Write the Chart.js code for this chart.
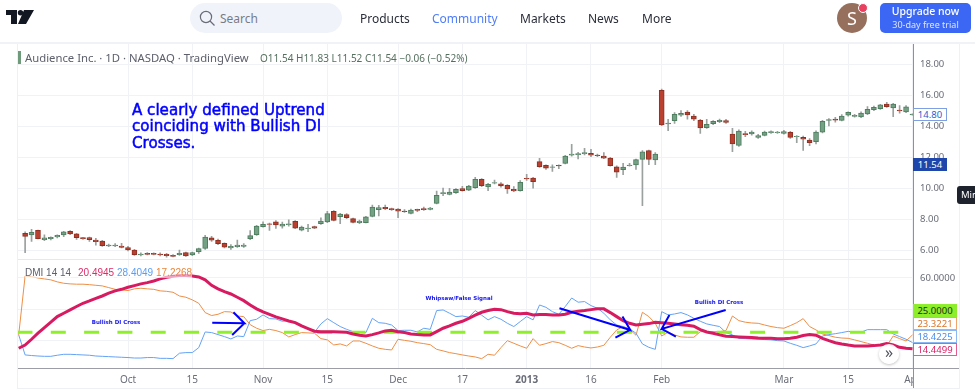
<!DOCTYPE html>
<html>
<head>
<meta charset="utf-8">
<title>Audience Inc. DMI</title>
<script src="https://cdn.jsdelivr.net/npm/chart.js@4/dist/chart.umd.min.js"></script>
<style>
  html, body { margin: 0; padding: 0; background: #fff; overflow: hidden; }
  #page { position: relative; width: 975px; height: 391px; font-family: "Noto Sans", sans-serif; filter: blur(0.4px); }
  #page div { position: absolute; white-space: nowrap; }
  canvas { position: absolute; left: 0; }
  .nav { top: 10px; font-size: 12px; color: #2a2e39; }
  .box { left: 913px; height: 11px; line-height: 11px; padding: 0; font-size: 9.5px; text-align: center; box-sizing: content-box; background: #fff; }
  .note { color: #1414f0; font-family: "DejaVu Sans", sans-serif; font-weight: bold; font-size: 5.5px; transform: translateX(-50%); }
  .leg { top: 267px; font-family: "Liberation Sans", sans-serif; font-size: 10px; background: rgba(255,255,255,.6); }
</style>
</head>
<body>
<div id="page">
  <!-- header -->
  <svg style="position:absolute;left:6px;top:10px" width="28" height="15" viewBox="0 0 28 15">
    <path d="M0 0H11V14H5V5H0Z M18 0H28L20 14H12Z" fill="#131722"/><circle cx="14.5" cy="2.7" r="2.7" fill="#131722"/>
  </svg>
  <div style="left:190px;top:3px;width:152px;height:30px;border-radius:15px;background:#f0f3fa"></div>
  <svg style="position:absolute;left:199px;top:10px" width="17" height="17" viewBox="0 0 17 17">
    <circle cx="7" cy="7" r="5.6" fill="none" stroke="#6a6d78" stroke-width="1.2"/><path d="M11 11L15.5 15.5" stroke="#6a6d78" stroke-width="1.2"/>
  </svg>
  <div style="left:220px;top:10px;font-size:12px;color:#787b86">Search</div>
  <div class="nav" style="left:360px">Products</div>
  <div class="nav" style="left:432px;color:#4f7dfa">Community</div>
  <div class="nav" style="left:520px">Markets</div>
  <div class="nav" style="left:588px">News</div>
  <div class="nav" style="left:642px">More</div>
  <div style="left:837px;top:3px;width:30px;height:30px;border-radius:15px;background:#96705c;color:#fff;font-size:18px;line-height:30px;text-align:center">S</div>
  <div style="left:858px;top:3px;width:8px;height:8px;border-radius:5px;background:#e8405e;border:1px solid #fff"></div>
  <div style="left:880px;top:3px;width:91px;height:30px;border-radius:5px;background:#3c67f5"></div>
  <div style="left:880px;top:4px;width:91px;text-align:center;font-size:10.5px;color:#fff;font-weight:500">Upgrade now</div>
  <div style="left:880px;top:18px;width:91px;text-align:center;font-size:9px;color:#dbe4ff">30-day free trial</div>
  <div style="left:0;top:42px;width:975px;height:2px;background:#f1f2f6"></div>

  <canvas id="priceChart" width="959" height="216" style="top:44px"></canvas>
  <canvas id="dmiChart" width="959" height="128" style="top:260px"></canvas>

  <!-- frame -->
  <div style="left:17px;top:44px;width:1px;height:344px;background:#eef0f4"></div>
  <div style="left:17px;top:388px;width:942px;height:1px;background:#eef0f4"></div>
  <div style="left:959px;top:44px;width:1px;height:345px;background:#f0f1f5"></div>
  <div style="left:913px;top:369px;width:46px;height:19px;background:#fff"></div>
  <div style="left:913px;top:368px;width:46px;height:1px;background:#9b9ea6"></div>
  <div style="left:913px;top:44px;width:1px;height:344px;background:#8e9199"></div>

  <!-- legends -->
  <div style="left:18px;top:51px;width:3px;height:13px;background:#6f9b7c"></div>
  <div style="left:25px;top:50px;font-size:11.3px;color:#5d606b">Audience Inc. · 1D · NASDAQ · TradingView</div>
  <div style="left:260px;top:51px;font-size:10px;color:#55705f">O11.54 H11.83 L11.52 C11.54 −0.06 (−0.52%)</div>
  <div class="leg" style="left:25px;color:#5d606b">DMI 14 14</div>
  <div class="leg" style="left:78px;color:#dd2a68">20.4945</div>
  <div class="leg" style="left:117px;color:#5c9df2">28.4049</div>
  <div class="leg" style="left:156px;color:#e8863b">17.2268</div>

  <!-- annotations -->
  <div style="left:132px;top:102px;font-family:'DejaVu Sans',sans-serif;font-size:15.1px;line-height:16.4px;color:#0000ff;-webkit-text-stroke:0.5px #0000ff">A clearly defined Uptrend<br>coinciding with Bullish DI<br>Crosses.</div>
  <div class="note" style="left:116px;top:319px">Bullish DI Cross</div>
  <div class="note" style="left:459px;top:295px">Whipsaw/False Signal</div>
  <div class="note" style="left:719px;top:299px">Bullish DI Cross</div>

  <!-- price scale labels -->
  <div class="box" style="top:108px;width:32px;border:1px solid #7f9fe4;color:#2f5bd0">14.80</div>
  <div class="box" style="top:158px;width:34px;height:13px;line-height:13px;background:#1f47ab;color:#fff">11.54</div>
  <div style="left:957px;top:186px;width:18px;height:18px;border-radius:3px 0 0 3px;background:#1e222d;color:#fff;font-size:9.5px;line-height:18px;padding-left:4px;box-sizing:border-box;overflow:hidden">Min</div>
  <div class="box" style="top:304px;width:44px;height:13px;line-height:13px;background:#8fee2c;color:#20300c">25.0000</div>
  <div class="box" style="top:317px;width:42px;border:1px solid #f2a56a;color:#d9762b">23.3221</div>
  <div class="box" style="top:330px;width:42px;border:1px solid #8ab8f5;color:#4c8fe8">18.4225</div>
  <div class="box" style="top:343px;width:42px;border:1px solid #e45c90;color:#d81b60">14.4499</div>
  <div style="left:879px;top:344px;width:20px;height:20px;border-radius:10px;background:rgba(255,255,255,.92);box-shadow:0 1px 3px rgba(0,0,0,.25);color:#50535e;font-size:16px;line-height:17px;text-align:center">»</div>
</div>

<script>
const opens = [
  7.08,6.97,7.27,6.67,6.73,6.84,6.97,7.21,7.04,6.80,
  6.80,6.65,6.58,6.26,6.26,6.26,6.15,6.00,5.68,5.78,
  5.78,5.74,5.72,5.65,5.70,5.83,5.68,5.89,6.11,6.78,
  6.63,6.43,6.13,6.22,6.24,6.73,6.99,7.51,7.70,7.83,
  7.55,7.64,7.86,7.29,7.38,7.51,7.70,7.81,8.50,8.16,
  8.29,8.03,7.77,7.77,8.18,8.61,8.76,8.68,8.65,8.52,
  8.37,8.63,8.68,8.63,9.02,9.65,9.60,9.71,9.97,9.88,
  10.03,10.57,10.08,10.32,10.29,10.19,9.93,9.84,10.64,10.66,
  11.72,11.48,11.35,11.48,11.61,12.13,12.17,12.24,12.26,12.15,
  12.08,11.95,11.39,11.20,11.46,11.50,11.87,12.43,11.83,16.33,
  14.16,14.37,14.72,14.93,14.67,14.39,13.92,14.18,14.31,14.37,
  13.51,12.77,13.53,13.51,13.29,13.42,13.59,13.59,13.55,13.62,
  13.34,13.29,13.12,13.01,13.62,14.39,14.48,14.39,14.72,14.65,
  14.61,14.80,15.08,15.15,15.45,15.19,15.06,14.93,14.74];
const highs = [
  7.17,7.34,7.29,6.99,6.86,6.99,7.21,7.25,7.08,6.82,
  6.84,6.76,6.63,6.39,6.41,6.43,6.24,6.04,5.81,5.83,
  5.81,5.81,5.78,5.70,6.00,5.87,5.87,6.13,6.95,6.88,
  6.71,6.47,6.35,6.65,6.41,7.25,7.60,7.83,7.75,7.90,
  7.81,7.96,7.90,7.55,7.66,7.55,8.09,8.50,8.55,8.37,
  8.35,8.07,7.94,8.18,8.91,8.89,8.91,8.72,8.68,8.61,
  8.65,8.65,8.78,8.76,9.82,10.01,9.99,9.97,10.12,10.19,
  10.70,10.62,10.32,10.53,10.36,10.23,10.10,10.49,10.90,10.70,
  11.93,11.52,11.52,11.52,12.13,12.84,12.32,12.58,12.52,12.21,
  12.30,12.00,11.44,11.61,11.61,11.89,12.43,12.47,12.30,16.42,
  14.46,14.89,15.02,15.02,14.78,14.46,14.46,14.37,14.48,14.46,
  13.87,13.77,13.68,13.72,13.49,13.70,13.72,13.68,13.75,13.68,
  13.40,13.38,13.21,13.72,14.39,14.50,14.59,14.76,14.95,14.78,
  14.95,15.28,15.32,15.43,15.56,15.49,15.34,15.34,14.82];
const lows = [
  5.83,6.56,6.71,6.60,6.65,6.78,6.86,6.99,6.69,6.69,
  6.56,6.32,6.24,6.22,6.22,6.13,5.94,5.65,5.61,5.68,
  5.68,5.61,5.53,5.55,5.65,5.59,5.63,5.78,6.04,6.56,
  6.35,6.13,6.04,6.17,6.17,6.67,6.95,7.47,7.27,7.40,
  7.42,7.55,7.38,7.23,7.19,7.38,7.66,7.77,7.88,7.70,
  8.03,7.75,7.70,7.75,8.14,8.20,8.61,8.57,8.09,8.44,
  8.33,8.48,8.57,8.59,8.98,9.52,9.56,9.67,9.80,9.84,
  9.99,10.10,9.84,10.27,10.06,9.67,9.78,9.80,10.51,10.01,
  11.35,11.22,11.09,11.26,11.57,12.08,11.89,12.15,12.04,12.04,
  11.91,11.42,10.70,10.88,11.42,11.22,8.87,11.52,11.52,14.05,
  13.72,14.20,14.65,14.46,14.37,13.55,13.87,14.11,14.24,14.20,
  12.36,12.71,13.34,13.44,13.23,13.38,13.55,13.55,13.49,13.23,
  12.95,12.45,12.75,12.86,13.57,14.03,14.28,14.35,14.67,14.59,
  14.57,14.76,15.02,15.10,15.23,14.63,14.85,14.89,14.72];
const closes = [
  6.88,7.14,6.73,6.78,6.82,6.95,7.17,7.04,6.80,6.73,
  6.67,6.54,6.28,6.32,6.32,6.17,6.00,5.70,5.74,5.72,
  5.72,5.68,5.63,5.59,5.78,5.61,5.83,6.09,6.84,6.63,
  6.41,6.19,6.24,6.32,6.32,6.93,7.55,7.66,7.66,7.62,
  7.68,7.70,7.42,7.49,7.42,7.42,7.88,8.35,7.92,8.33,
  8.09,7.79,7.88,8.14,8.78,8.74,8.68,8.61,8.52,8.48,
  8.59,8.57,8.61,8.72,9.54,9.71,9.75,9.93,9.84,10.14,
  10.57,10.16,10.25,10.36,10.14,9.95,9.82,10.38,10.60,10.42,
  11.39,11.29,11.39,11.44,12.08,12.21,12.24,12.30,12.13,12.11,
  11.95,11.46,11.03,11.37,11.50,11.85,12.36,11.87,12.21,14.09,
  14.22,14.78,14.85,14.74,14.46,13.90,14.13,14.33,14.39,14.26,
  12.86,13.70,13.47,13.64,13.40,13.64,13.66,13.64,13.66,13.29,
  13.36,13.18,12.95,13.64,14.33,14.44,14.41,14.67,14.91,14.72,
  14.87,15.10,15.23,15.39,15.28,15.45,15.00,15.26,14.80];

// DMI lines start one bar before the first visible candle
const adx = [
  14.7,16.8,20.5,24.4,28.0,31.5,35.1,37.3,39.4,41.6,43.7,45.2,46.9,48.4,50.2,51.7,52.7,54.0,55.1,56.2,
  57.0,58.1,59.4,60.5,61.1,61.6,61.6,61.3,60.7,58.8,55.3,53.0,51.2,49.7,47.6,45.4,42.6,40.1,38.1,36.6,
  34.9,33.6,32.3,31.2,29.1,27.4,25.7,25.4,25.4,25.4,25.2,25.0,23.9,23.1,22.6,23.5,24.6,25.9,26.3,25.4,
  24.8,23.9,23.5,23.3,23.3,25.4,27.6,29.1,30.8,32.1,34.0,36.0,37.9,39.0,39.8,39.6,38.3,37.3,37.0,37.3,
  36.2,36.4,36.4,36.2,36.2,36.6,37.9,38.5,39.0,39.6,40.1,40.1,37.7,35.1,32.5,30.8,29.7,30.2,30.6,31.5,
  31.2,30.8,30.4,29.9,29.5,28.9,26.7,25.2,24.4,23.3,22.4,22.2,22.0,21.8,21.6,21.3,21.1,21.1,20.9,20.9,
  21.1,21.8,22.9,23.5,23.1,21.1,19.6,18.3,17.5,16.8,16.2,16.2,16.2,16.4,16.8,17.7,16.8,15.3,14.7,14.4];
const plusDi = [
  23.3,10.4,10.0,9.7,9.5,9.5,10.2,10.8,10.8,10.6,10.4,10.2,9.7,9.5,9.3,9.1,8.9,8.7,8.4,8.4,
  8.7,8.7,8.2,8.2,8.0,11.5,11.9,11.9,15.1,25.2,24.8,23.5,22.2,20.7,22.6,22.2,32.5,33.4,36.2,33.8,
  33.6,32.1,32.5,30.8,29.3,27.2,25.0,30.4,33.8,31.2,28.7,26.9,25.4,25.2,24.8,34.0,31.2,30.8,29.7,26.1,
  26.3,26.3,25.2,27.6,26.9,39.0,39.4,37.3,35.1,35.5,34.7,39.0,36.0,33.0,35.1,33.4,30.8,28.7,31.9,35.1,
  33.0,42.6,41.1,38.3,36.6,41.6,47.1,44.4,44.8,42.2,40.5,37.3,33.0,29.7,28.7,27.2,24.4,17.5,15.3,14.0,
  38.3,36.2,36.8,37.7,36.2,34.0,32.1,30.4,29.5,28.7,24.8,23.3,21.1,20.9,20.7,20.5,20.3,20.1,19.6,19.4,
  17.9,16.6,15.1,16.2,17.5,22.6,23.5,24.1,24.8,25.6,25.2,25.0,26.7,26.7,26.7,26.7,23.9,22.2,20.5,18.4];
const minusDi = [
  23.3,61.3,60.9,60.0,59.4,58.8,57.5,56.6,56.2,56.0,56.0,55.7,55.3,54.9,53.8,52.7,52.3,51.9,53.0,53.4,
  53.0,52.7,51.7,51.4,50.8,48.4,47.6,45.9,43.7,37.7,35.8,36.6,38.3,38.1,35.5,35.1,29.9,27.6,26.1,26.9,
  26.1,24.8,22.0,23.5,24.8,24.6,24.4,20.9,20.1,16.8,17.5,16.2,19.4,19.4,17.9,16.2,14.7,14.0,13.6,20.5,
  19.8,19.2,18.3,17.7,17.0,14.0,13.0,11.9,11.2,10.4,9.7,9.1,8.0,10.8,10.2,15.1,19.6,17.9,16.2,14.7,
  20.9,16.6,17.7,19.0,18.3,16.6,14.7,16.4,15.5,14.9,15.5,16.6,21.8,26.5,28.7,26.9,23.1,37.9,35.1,30.8,
  22.6,25.0,23.3,22.0,21.8,21.8,25.4,25.4,25.4,25.4,26.1,35.5,32.5,31.5,31.0,30.8,29.7,28.7,28.0,27.6,
  29.3,31.2,33.8,28.7,26.5,23.9,22.9,21.8,21.3,21.1,20.1,19.0,17.9,16.8,16.4,16.2,22.6,20.9,19.4,23.3];

const dmiLevel = 25;
const tickDays = [16, 26, 37, 47, 58, 68, 78, 88, 99, 118, 128, 138];
const tickLabels = ["Oct", "15", "Nov", "15", "Dec", "17", "2013", "16", "Feb", "Mar", "15", "Apr"];
const priceTicks = [6, 8, 10, 12, 14, 16, 18];
const dmiTicks = [20, 40, 60];

// arrows drawn by hand on the DMI pane: shaft end, tip, head, tip, head
const arrow1Days = [29.1, 34.1, 32.4, 34.1, 32.2];
const arrow1Vals = [31.2, 30.8, 37.9, 30.8, 23.3];
const arrow2Days = [83.1, 94.1, 92.9, 94.1, 91.8];
const arrow2Vals = [40.5, 26.5, 35.1, 26.5, 21.6];
const arrow3Days = [108.95, 99, 100.2, 99, 101.2];
const arrow3Vals = [39.4, 27.2, 36.2, 27.2, 22.2];

const UP = "#74a184", UP_EDGE = "#4f7d60";
const DOWN = "#ba4130", DOWN_EDGE = "#8f3023";
const GRID = "#f1f2f5";
const xMin = -1.185, xMax = 138.08;

// the axis labels must not eat into the plot area
const noPadding = (s) => { s.paddingLeft = s.paddingRight = s.paddingTop = s.paddingBottom = 0; };

const xAxis = (showLabels) => ({
  type: "linear",
  offset: false,
  min: xMin,
  max: xMax,
  afterBuildTicks: (s) => { s.ticks = tickDays.map((v) => ({ value: v })); },
  afterFit: (s) => { s.height = showLabels ? 20 : 0; noPadding(s); },
  grid: { color: GRID, drawTicks: false, offset: false },
  border: { color: showLabels ? "#9b9ea6" : "#e6e8ee", width: showLabels ? 1 : 2 },
  ticks: {
    display: showLabels,
    autoSkip: false,
    maxRotation: 0,
    padding: 6,
    color: "#6a6d78",
    font: (ctx) => ({
      family: "Noto Sans",
      size: 10,
      weight: ctx.tick && ctx.tick.value === 78 ? "bold" : "normal",
    }),
    callback: (v) => tickLabels[tickDays.indexOf(v)],
  },
});

const yAxis = (min, max, values, decimals) => ({
  position: "right",
  min: min,
  max: max,
  afterBuildTicks: (s) => { s.ticks = values.map((v) => ({ value: v })); },
  afterFit: (s) => { s.width = 46; noPadding(s); },
  grid: { color: GRID, drawTicks: false },
  border: { display: false },
  ticks: {
    padding: 7,
    color: "#6a6d78",
    font: { family: "Noto Sans", size: 9.5 },
    callback: (v) => (decimals === 4 && v !== 60 ? "" : v.toFixed(decimals)),
  },
});

const common = {
  responsive: false,
  animation: false,
  events: [],
  layout: { padding: { left: 17.5, right: 0, top: 0, bottom: 0 } },
  plugins: { legend: { display: false }, tooltip: { enabled: false } },
};

const isUp = (i) => closes[i] >= opens[i];

new Chart(document.getElementById("priceChart").getContext("2d"), {
  type: "bar",
  data: {
    datasets: [
      {
        label: "Wick",
        data: highs.map((h, i) => ({ x: i, y: [lows[i], h] })),
        backgroundColor: "#9aa19e",
        barThickness: 1,
        grouped: false,
        order: 2,
      },
      {
        label: "Body",
        data: opens.map((o, i) => ({ x: i, y: [o, closes[i]] })),
        backgroundColor: (ctx) => (isUp(ctx.dataIndex) ? UP : DOWN),
        borderColor: (ctx) => (isUp(ctx.dataIndex) ? UP_EDGE : DOWN_EDGE),
        borderWidth: 1,
        borderSkipped: false,
        barThickness: 5,
        grouped: false,
        order: 1,
      },
    ],
  },
  options: {
    ...common,
    scales: { x: xAxis(false), y: yAxis(5.353, 19.333, priceTicks, 2) },
  },
});

const lineSet = (vals, color, width, order) => ({
  data: vals.map((v, i) => ({ x: i - 1, y: v })),
  borderColor: color,
  borderWidth: width,
  pointRadius: 0,
  tension: 0,
  order: order,
});

const arrowSet = (days, vals) => ({
  data: days.map((d, i) => ({ x: d, y: vals[i] })),
  borderColor: "#0000ff",
  borderWidth: 2,
  pointRadius: 0,
  tension: 0,
  order: 1,
});

new Chart(document.getElementById("dmiChart").getContext("2d"), {
  type: "line",
  data: {
    datasets: [
      lineSet(minusDi, "#ee8f47", 1, 5),
      lineSet(plusDi, "#64a3f5", 1, 4),
      {
        data: [{ x: xMin, y: dmiLevel }, { x: xMax, y: dmiLevel }],
        borderColor: "#8ff02a",
        borderWidth: 3,
        borderDash: [15, 18.3],
        pointRadius: 0,
        order: 3,
      },
      lineSet(adx, "#d81b60", 3, 2),
      arrowSet(arrow1Days, arrow1Vals),
      arrowSet(arrow2Days, arrow2Vals),
      arrowSet(arrow3Days, arrow3Vals),
    ],
  },
  options: {
    ...common,
    scales: { x: xAxis(true), y: yAxis(1.97, 71.6, dmiTicks, 4) },
  },
});
</script>
</body>
</html>
